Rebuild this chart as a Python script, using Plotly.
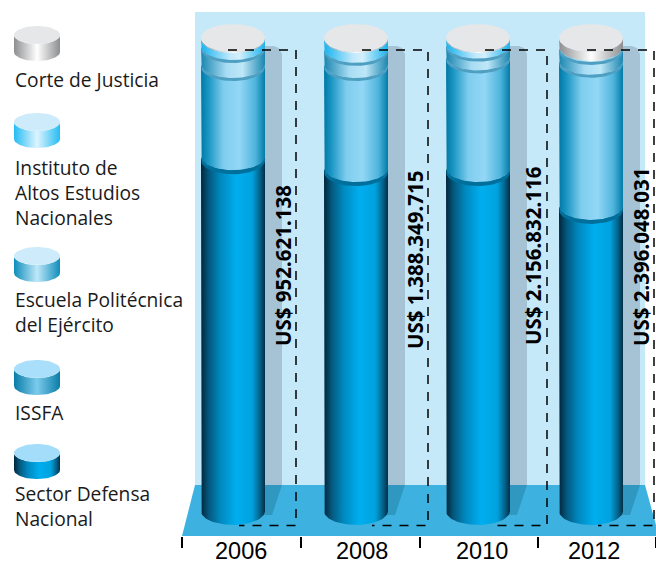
import plotly.graph_objects as go
import numpy as np

# ---------- data ----------
YEARS = ["2006", "2008", "2010", "2012"]
TOTALS_USD = [952621138, 1388349715, 2156832116, 2396048031]
SERIES = ["Sector Defensa<br>Nacional", "ISSFA", "Escuela Politécnica<br>del Ejército",
          "Instituto de<br>Altos Estudios<br>Nacionales", "Corte de Justicia"]
# share of each column, percent
SECTOR_DEFENSA = [75.0, 72.5, 72.5, 64.5]
ISSFA = [19.5, 22.0, 23.6, 30.7]
ESCUELA = [3.8, 3.2, 2.5, 2.7]
INSTITUTO = [1.5, 2.1, 1.2, 0.2]
CORTE = [0.2, 0.2, 0.2, 1.9]

# ---------- layout constants ----------
W, H, PLOT_H = 656, 564, 536
BASE_PX, UNIT_PX = 511.0, 4.73
RX, RY = 32.0, 14.0
COL_X = [233, 356, 478, 591]
BOX_X = [(228, 296, 239), (362, 428, 372), (485, 547, 495), (587, 654, 598)]
LABEL_X = [283, 415, 533, 641]
LABEL_PX = [266, 260, 256, 257]
TICK_LABEL_X = [241, 362, 482, 594]
TICK_X = [182, 301, 420, 538, 656]


def vy(px):
    return (BASE_PX - np.asarray(px, dtype=float)) / UNIT_PX


def grad(stops):
    return dict(type="horizontal", colorscale=stops)


SCALES = {
    "sector": [[0, "#02263B"], [0.12, "#04587E"], [0.3, "#0088BE"], [0.55, "#00AEEF"], [0.8, "#00A2DE"],
               [0.92, "#04628A"], [1, "#032E46"]],
    "issfa": [[0, "#0078A6"], [0.12, "#1C97C4"], [0.35, "#7FCDEE"], [0.6, "#93D7F6"], [0.85, "#4FB4DC"],
              [1, "#007CA8"]],
    "escuela": [[0, "#1B86AF"], [0.4, "#A9DDF4"], [0.65, "#BEE7F8"], [1, "#1B86AF"]],
    "instituto": [[0, "#18B3EE"], [0.45, "#BFE9FB"], [0.6, "#D4F0FC"], [1, "#18B3EE"]],
    "corte": [[0, "#8C8E90"], [0.5, "#FFFFFF"], [1, "#8C8E90"]],
}
BAND = {"sector": "#006F9C", "issfa": "#4F9FC2", "escuela": "#4F9FC2", "instituto": "#5FB3D3", "corte": "#9A9B9D"}
CAPS = {"sector": "#A3DDFA", "issfa": "#A9DFFA", "escuela": "#CDEBFA", "instituto": "#CDEBFA", "corte": "#E6E7E8"}

fig = go.Figure()


def poly(xs, pxs, color=None, gradient=None):
    kw = dict(fillgradient=gradient) if gradient else dict(fillcolor=color)
    fig.add_trace(go.Scatter(x=list(xs), y=list(vy(pxs)), mode="lines", line=dict(width=0), fill="toself",
                             hoverinfo="skip", showlegend=False, **kw))


def outline(xs, pxs, color, width, dash="solid"):
    fig.add_trace(go.Scatter(x=list(xs), y=list(vy(pxs)), mode="lines",
                             line=dict(color=color, width=width, dash=dash),
                             hoverinfo="skip", showlegend=False))


def arc(cx, cy, rx, ry, a0=0.0, a1=np.pi):
    t = np.linspace(a0, a1, 48)
    return cx + rx * np.cos(t), cy + ry * np.sin(t)


def segment(cx, top, bot, rx, ry, key):
    ax, ay = arc(cx, top, rx, ry)
    bx, by = arc(cx, bot, rx, ry)
    poly(np.r_[ax, bx[::-1]], np.r_[ay, by[::-1]], gradient=grad(SCALES[key]))


# backdrop
poly([195, 645, 645, 195], [12, 12, 486, 486], color="#C5E9F9")
poly([195, 645, 656, 656, 182], [485, 485, 525, 536, 536], color="#3DB2E0")

# shadows
for cx in COL_X:
    l = cx + 30
    r = cx + 49
    poly([l, r - 8, r - 3, r, r, l], [46, 46, 48, 54, 485, 485], color="#A6C3D5")
    poly([l, r, r - 10, l], [485, 485, 515, 515], color="#3097C0")

# columns
KEYS = ["sector", "issfa", "escuela", "instituto", "corte"]
VALUES = [SECTOR_DEFENSA, ISSFA, ESCUELA, INSTITUTO, CORTE]
for i, cx in enumerate(COL_X):
    shares = [v[i] for v in VALUES]
    edges = np.cumsum([0.0] + shares) / sum(shares) * 100
    pxs = BASE_PX - edges * UNIT_PX
    for k, key in enumerate(KEYS):
        segment(cx, pxs[k + 1], pxs[k], RX, RY, key)
    for k, key in enumerate(KEYS[:3]):
        thick = 4 if key == "sector" else 3
        ax, ay = arc(cx, pxs[k + 1], RX, RY)
        bx, by = arc(cx, pxs[k + 1] + thick, RX, RY)
        poly(np.r_[ax, bx[::-1]], np.r_[ay, by[::-1]], color=BAND[key])
    tx, ty = arc(cx, pxs[-1], RX, RY, 0, 2 * np.pi)
    poly(tx, ty, color=CAPS["corte"])

# dashed boxes
for (x0, x1, x2) in BOX_X:
    outline([x0, x1, x1, x2], [50, 50, 525.5, 525.5], "#000000", 1.5, "9px,8px")

# legend swatches
SWATCH_TOP = [{"corte": 35, "instituto": 122, "escuela": 256, "issfa": 369, "sector": 453}[k] for k in KEYS[::-1]]
SWATCH_SCALE = {**SCALES, "sector": SCALES["sector"],
                "instituto": [[0, "#25BCF2"], [0.5, "#DDF4FF"], [1, "#25BCF2"]],
                "escuela": [[0, "#0F8DBB"], [0.5, "#BFE8F9"], [1, "#0F8DBB"]],
                "issfa": [[0, "#0A7CA8"], [0.5, "#7CCBEC"], [1, "#0A7CA8"]]}
for key, top in zip(KEYS[::-1], SWATCH_TOP):
    ax, ay = arc(37, top, 23, 9)
    bx, by = arc(37, top + 17, 23, 9)
    poly(np.r_[ax, bx[::-1]], np.r_[ay, by[::-1]], gradient=grad(SWATCH_SCALE[key]))
    tx, ty = arc(37, top, 23, 9, 0, 2 * np.pi)
    poly(tx, ty, color=CAPS[key])

ann = []
LEGEND_TEXT_PX = [506, 412, 312, 192, 79]
for name, py in zip(SERIES, LEGEND_TEXT_PX):
    ann.append(dict(x=13, y=float(vy(py)), xref="x", yref="y", text=name, showarrow=False, xanchor="left",
                    yanchor="middle", align="left", font=dict(family="Open Sans", size=19.2, color="#1A1A1A")))
for x, py, total in zip(LABEL_X, LABEL_PX, TOTALS_USD):
    ann.append(dict(x=x, y=float(vy(py)), xref="x", yref="y", text="US$ " + f"{total:,}".replace(",", "."),
                    showarrow=False, textangle=-90, font=dict(family="Noto Sans", size=20.5, color="#000000", weight="bold")))
for x, year in zip(TICK_LABEL_X, YEARS):
    ann.append(dict(x=x, y=(PLOT_H - H) / PLOT_H, xref="x", yref="paper", text=year, showarrow=False, yanchor="bottom",
                    borderpad=0, borderwidth=0, font=dict(family="Liberation Sans", size=23.5, color="#000000")))

fig.update_layout(
    width=W, height=H, margin=dict(l=0, r=0, t=0, b=H - PLOT_H),
    paper_bgcolor="white", plot_bgcolor="white", showlegend=False, annotations=ann,
    xaxis=dict(range=[0, W], tickmode="array", tickvals=TICK_X, showticklabels=False, ticks="outside", ticklen=11,
               tickwidth=1.5, tickcolor="#000000", showgrid=False, zeroline=False, showline=False, automargin=False),
    yaxis=dict(range=[float(vy(PLOT_H)), float(vy(0))], visible=False, automargin=False),
)
fig.write_html("out.html", config={"displayModeBar": False},
               post_script="document.body.style.margin='0';document.body.style.overflow='hidden';")
